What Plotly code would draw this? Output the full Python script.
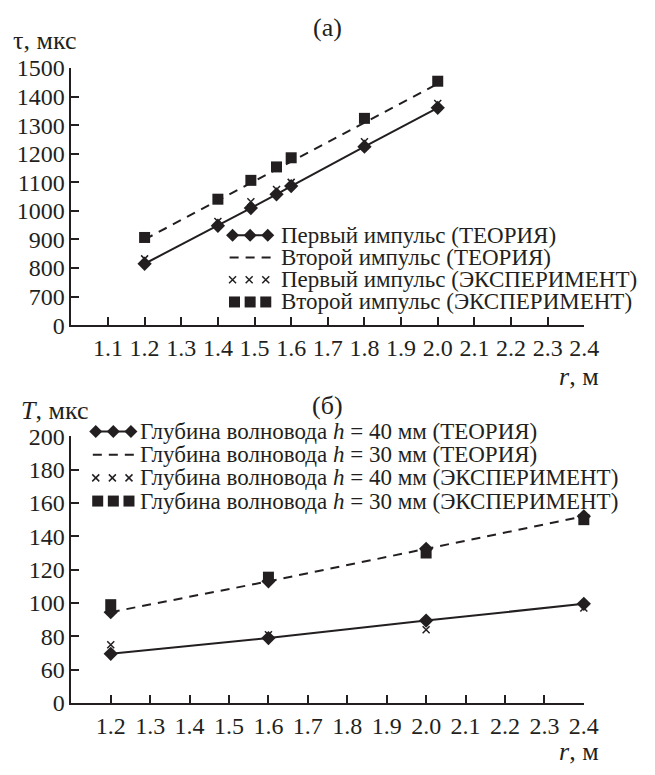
import plotly.graph_objects as go

# ---------------- data: chart (а) ----------------
r_a = [1.2, 1.4, 1.49, 1.56, 1.6, 1.8, 2.0]
tau_theory_1 = [815, 948, 1010, 1058, 1087, 1225, 1361]
tau_theory_2 = [900, 1036, 1098, 1145, 1172, 1309, 1445]
tau_exp_1 = [832, 963, 1032, 1075, 1100, 1242, 1376]
tau_exp_2 = [907, 1041, 1107, 1154, 1186, 1324, 1454]
a_xticks = [1.1, 1.2, 1.3, 1.4, 1.5, 1.6, 1.7, 1.8, 1.9, 2.0, 2.1, 2.2, 2.3, 2.4]
a_yticks = [600, 700, 800, 900, 1000, 1100, 1200, 1300, 1400, 1500]
a_yticktext = ["0", "700", "800", "900", "1000", "1100", "1200", "1300", "1400", "1500"]
legend_a = ["Первый импульс (ТЕОРИЯ)", "Второй импульс (ТЕОРИЯ)",
            "Первый импульс (ЭКСПЕРИМЕНТ)", "Второй импульс (ЭКСПЕРИМЕНТ)"]

# ---------------- data: chart (б) ----------------
r_b = [1.2, 1.6, 2.0, 2.4]
T_theory_40 = [69.5, 79, 89.5, 99.5]
T_theory_30 = [94.5, 113, 132.5, 152]
T_exp_40 = [75, 81, 84, 97]
T_exp_30 = [99, 115.5, 130, 150]
b_xticks = [1.2, 1.3, 1.4, 1.5, 1.6, 1.7, 1.8, 1.9, 2.0, 2.1, 2.2, 2.3, 2.4]
b_yticks = [40, 60, 80, 100, 120, 140, 160, 180, 200]
b_yticktext = ["0", "60", "80", "100", "120", "140", "160", "180", "200"]
legend_b = ["Глубина волновода <i>h</i> = 40 мм (ТЕОРИЯ)",
            "Глубина волновода <i>h</i> = 30 мм (ТЕОРИЯ)",
            "Глубина волновода <i>h</i> = 40 мм (ЭКСПЕРИМЕНТ)",
            "Глубина волновода <i>h</i> = 30 мм (ЭКСПЕРИМЕНТ)"]

# ---------------- style ----------------
W, H = 655, 775
INK = "#231f20"
FONT = "Liberation Serif"
TICK_SIZE = 24
TITLE_SIZE = 26
LEG_SIZE = 23
LW = 2
DASH = "9px,7px"


def fx(p):
    return p / W


def fy(p):
    return 1 - p / H


fig = go.Figure()

# chart (а)
fig.add_trace(go.Scatter(x=r_a, y=tau_theory_2, mode="lines", xaxis="x", yaxis="y",
                         line=dict(color=INK, width=LW, dash=DASH), cliponaxis=False))
fig.add_trace(go.Scatter(x=r_a, y=tau_theory_1, mode="lines+markers", xaxis="x", yaxis="y",
                         line=dict(color=INK, width=LW),
                         marker=dict(symbol="diamond", size=11, color=INK), cliponaxis=False))
fig.add_trace(go.Scatter(x=r_a, y=tau_exp_1, mode="markers", xaxis="x", yaxis="y",
                         marker=dict(symbol="x-thin", size=7, line=dict(color=INK, width=1.5)),
                         cliponaxis=False))
fig.add_trace(go.Scatter(x=r_a, y=tau_exp_2, mode="markers", xaxis="x", yaxis="y",
                         marker=dict(symbol="square", size=11, color=INK), cliponaxis=False))

# chart (б)
fig.add_trace(go.Scatter(x=r_b, y=T_theory_30, mode="lines+markers", xaxis="x2", yaxis="y2",
                         line=dict(color=INK, width=LW, dash=DASH),
                         marker=dict(symbol="diamond", size=11, color=INK), cliponaxis=False))
fig.add_trace(go.Scatter(x=r_b, y=T_theory_40, mode="lines+markers", xaxis="x2", yaxis="y2",
                         line=dict(color=INK, width=LW),
                         marker=dict(symbol="diamond", size=11, color=INK), cliponaxis=False))
fig.add_trace(go.Scatter(x=r_b, y=T_exp_40, mode="markers", xaxis="x2", yaxis="y2",
                         marker=dict(symbol="x-thin", size=7, line=dict(color=INK, width=1.5)),
                         cliponaxis=False))
fig.add_trace(go.Scatter(x=r_b, y=T_exp_30, mode="markers", xaxis="x2", yaxis="y2",
                         marker=dict(symbol="square", size=11, color=INK), cliponaxis=False))


# ---------------- hand-drawn legends (pixel overlay axis) ----------------
def legend_block(left, text_x, rows, labels):
    fig.add_trace(go.Scatter(x=[left, left + 42], y=[rows[0], rows[0]], mode="lines",
                             xaxis="x3", yaxis="y3", line=dict(color=INK, width=LW)))
    fig.add_trace(go.Scatter(x=[left + 3, left + 21, left + 39], y=[rows[0]] * 3, mode="markers",
                             xaxis="x3", yaxis="y3",
                             marker=dict(symbol="diamond", size=10, color=INK)))
    fig.add_trace(go.Scatter(x=[left, left + 42], y=[rows[1], rows[1]], mode="lines",
                             xaxis="x3", yaxis="y3", line=dict(color=INK, width=LW, dash=DASH)))
    fig.add_trace(go.Scatter(x=[left + 3, left + 20, left + 37], y=[rows[2]] * 3, mode="markers",
                             xaxis="x3", yaxis="y3",
                             marker=dict(symbol="x-thin", size=7, line=dict(color=INK, width=1.5))))
    fig.add_trace(go.Scatter(x=[left + 5, left + 21, left + 37], y=[rows[3]] * 3, mode="markers",
                             xaxis="x3", yaxis="y3",
                             marker=dict(symbol="square", size=11, color=INK)))
    for yy, lab in zip(rows, labels):
        fig.add_annotation(x=text_x, y=yy, xref="x3", yref="y3", text=lab, showarrow=False,
                           xanchor="left", yanchor="middle", borderpad=0,
                           font=dict(family=FONT, size=LEG_SIZE, color=INK))


legend_block(235, 287, [230, 253, 276, 299], legend_a)
legend_block(95, 142, [433, 457, 481, 505], legend_b)


def label(x, y, text, xanchor):
    fig.add_annotation(x=x, y=y, xref="x3", yref="y3", text=text, showarrow=False,
                       xanchor=xanchor, yanchor="middle", borderpad=0,
                       font=dict(family=FONT, size=TITLE_SIZE, color=INK))


label(335, 15, "(а)", "center")
label(12, 28, "τ, мкс", "left")
label(614, 376, "<i>r</i>, м", "right")
label(335, 406, "(б)", "center")
label(20, 411, "<i>T</i>, мкс", "left")
label(614, 764, "<i>r</i>, м", "right")

axis_common = dict(showline=True, linecolor=INK, linewidth=1.5, ticks="inside", ticklen=8,
                   tickwidth=1.5, tickcolor=INK, showgrid=False, zeroline=False,
                   tickfont=dict(family=FONT, size=TICK_SIZE, color=INK), fixedrange=True)

fig.update_layout(
    width=W, height=H,
    margin=dict(l=0, r=0, t=0, b=0),
    paper_bgcolor="white", plot_bgcolor="rgba(0,0,0,0)",
    showlegend=False,
    font=dict(family=FONT, color=INK),
    xaxis=dict(domain=[fx(73), fx(598)], anchor="y", range=[1.0, 2.4], tickangle=0,
               tickvals=a_xticks, ticktext=[f"{v:.1f}" for v in a_xticks], **axis_common),
    yaxis=dict(domain=[fy(323), fy(57)], anchor="x", range=[600, 1500],
               tickvals=a_yticks, ticktext=a_yticktext, **axis_common),
    xaxis2=dict(domain=[fx(73), fx(597.5)], anchor="y2", range=[1.1, 2.4], tickangle=0,
                tickvals=b_xticks, ticktext=[f"{v:.1f}" for v in b_xticks], **axis_common),
    yaxis2=dict(domain=[fy(714), fy(438)], anchor="x2", range=[40, 200],
                tickvals=b_yticks, ticktext=b_yticktext, **axis_common),
    xaxis3=dict(domain=[0, 1], range=[0, W], visible=False, anchor="y3", fixedrange=True),
    yaxis3=dict(domain=[0, 1], range=[H, 0], visible=False, anchor="x3", fixedrange=True),
)

fig.write_html("out.html")
